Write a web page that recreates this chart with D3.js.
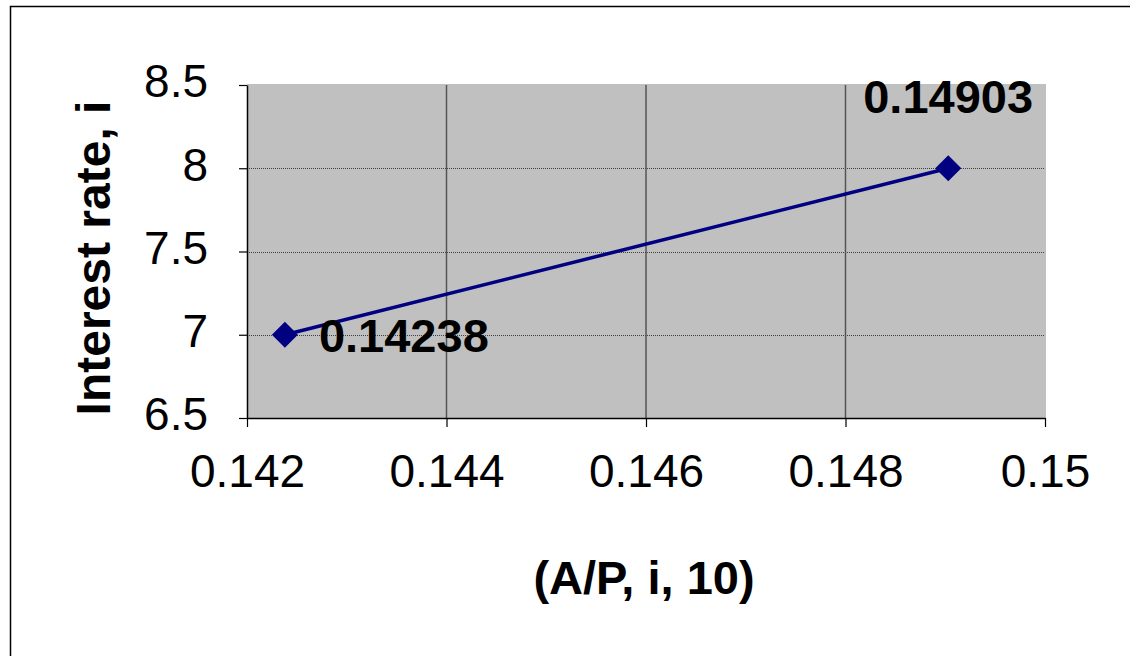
<!DOCTYPE html>
<html><head><meta charset="utf-8">
<script src="https://cdn.jsdelivr.net/npm/d3@7"></script>
<style>body{margin:0;background:#fff}svg{display:block;font-family:"Liberation Sans",Arial,sans-serif}</style>
</head><body>
<svg id="c" width="1130" height="656"></svg>
<script>
const xValues = [0.14238, 0.14903];
const yValues = [7, 8];
const pointLabels = ["0.14238", "0.14903"];
const xTicks = [0.142, 0.144, 0.146, 0.148, 0.15];
const xTickLabels = ["0.142", "0.144", "0.146", "0.148", "0.15"];
const yTicks = [6.5, 7, 7.5, 8, 8.5];
const yTickLabels = ["6.5", "7", "7.5", "8", "8.5"];
const xTitle = "(A/P, i, 10)";
const yTitle = "Interest rate, i";

const svg = d3.select("#c");
const L = 247, R = 1045, T = 85, B = 418;
const x = d3.scaleLinear().domain([0.142, 0.15]).range([L, R]);
const y = d3.scaleLinear().domain([6.5, 8.5]).range([B, T]);

// outer frame (top and left)
svg.append("path").attr("d", "M10.5,656 L10.5,6.5 L1130,6.5").attr("fill","none").attr("stroke","#000").attr("stroke-width",1.5);

// plot area
svg.append("rect").attr("x", L).attr("y", T - 1).attr("width", R - L + 1).attr("height", B - T + 1).attr("fill", "#c0c0c0");

// horizontal gridlines (dotted)
svg.append("g").selectAll("line").data(yTicks.filter(d => d > 6.5 && d < 8.5)).join("line")
  .attr("x1", L).attr("x2", R).attr("y1", d => Math.round(y(d)) + 0.5).attr("y2", d => Math.round(y(d)) + 0.5)
  .attr("stroke", "#404040").attr("stroke-width", 1).attr("stroke-dasharray", "1,1");

// vertical gridlines
svg.append("g").selectAll("line").data(xTicks.filter(d => d > 0.142 && d < 0.15)).join("line")
  .attr("x1", d => x(d)).attr("x2", d => x(d)).attr("y1", T).attr("y2", B)
  .attr("stroke", "#555").attr("stroke-width", 1.5);

// axes
const xAxis = d3.axisBottom(x).tickValues(xTicks).tickFormat((d,i) => xTickLabels[i]).tickSize(9).tickPadding(39).tickSizeOuter(0);
const gx = svg.append("g").attr("transform", `translate(0,${B})`).call(xAxis);
gx.select(".domain").attr("stroke", "#000").attr("stroke-width", 1.5);
gx.selectAll(".tick line").attr("stroke", "#000").attr("stroke-width", 1.2);
gx.selectAll(".tick text").attr("font-size", 46).attr("fill", "#000").attr("font-family", "Liberation Sans, Arial, sans-serif").attr("dy", "0.46em");

const yAxis = d3.axisLeft(y).tickValues(yTicks).tickFormat((d,i) => yTickLabels[i]).tickSize(8).tickPadding(31).tickSizeOuter(0);
const gy = svg.append("g").attr("transform", `translate(${L},0)`).call(yAxis);
gy.select(".domain").attr("stroke", "#000").attr("stroke-width", 1.5);
gy.selectAll(".tick line").attr("stroke", "#000").attr("stroke-width", 1.2);
gy.selectAll(".tick text").attr("font-size", 46).attr("fill", "#000").attr("font-family", "Liberation Sans, Arial, sans-serif").attr("dy", "0.26em");

// series line
const pts = xValues.map((v, i) => [v, yValues[i]]);
svg.append("path").datum(pts).attr("fill", "none").attr("stroke", "#000080").attr("stroke-width", 3.5)
  .attr("d", d3.line().x(d => x(d[0])).y(d => y(d[1])));

// diamond markers
svg.append("g").selectAll("path").data(pts).join("path")
  .attr("transform", d => `translate(${x(d[0])},${y(d[1])})`)
  .attr("d", "M0,-13 L13,0 L0,13 L-13,0 Z").attr("fill", "#000080");

// data labels
const labelOffsets = [[34, 17], [-85, -55]];
svg.append("g").selectAll("text").data(pts).join("text")
  .attr("x", (d,i) => x(d[0]) + labelOffsets[i][0])
  .attr("y", (d,i) => y(d[1]) + labelOffsets[i][1])
  .attr("font-size", 47).attr("font-weight", "bold").attr("fill", "#000")
  .text((d,i) => pointLabels[i]);

// axis titles
svg.append("text").attr("x", (L + R) / 2 - 2).attr("y", 594).attr("text-anchor", "middle")
  .attr("font-size", 47).attr("font-weight", "bold").text(xTitle);
svg.append("text").attr("transform", "translate(110,258) rotate(-90)").attr("text-anchor", "middle")
  .attr("font-size", 48).attr("font-weight", "bold").text(yTitle);
</script>
</body></html>
